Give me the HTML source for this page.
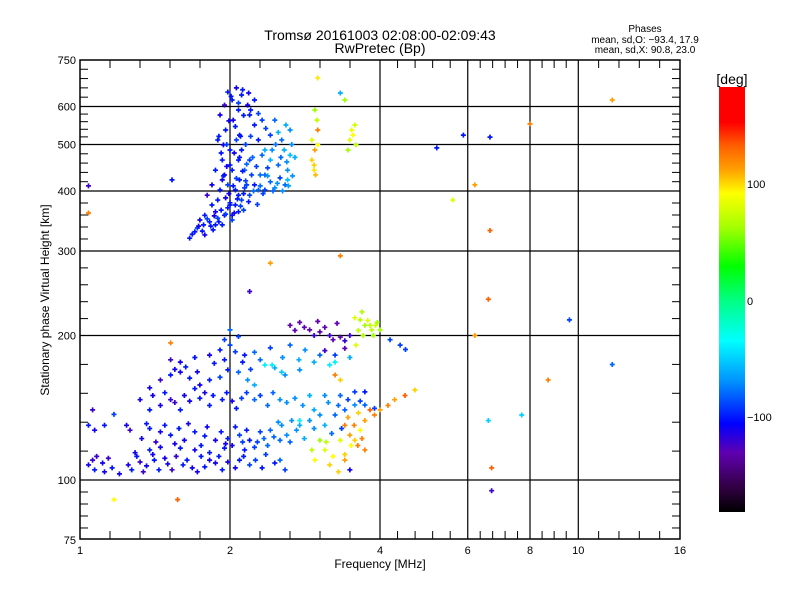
<!DOCTYPE html>
<html><head><meta charset="utf-8">
<style>
html,body{margin:0;padding:0;background:#fff;}
svg{display:block;font-family:"Liberation Sans",sans-serif;}
</style></head>
<body>
<svg id="chart" width="800" height="600" viewBox="0 0 800 600" xmlns="http://www.w3.org/2000/svg">
<defs>
<linearGradient id="cbgrad" x1="0" y1="1" x2="0" y2="0">
<stop offset="0" stop-color="#000000"/>
<stop offset="0.056" stop-color="#300040"/>
<stop offset="0.139" stop-color="#6000b0"/>
<stop offset="0.208" stop-color="#0000ff"/>
<stop offset="0.306" stop-color="#0090ff"/>
<stop offset="0.403" stop-color="#00ffff"/>
<stop offset="0.5" stop-color="#00ff80"/>
<stop offset="0.578" stop-color="#00ff00"/>
<stop offset="0.667" stop-color="#a0ff00"/>
<stop offset="0.75" stop-color="#ffff00"/>
<stop offset="0.806" stop-color="#ffa000"/>
<stop offset="0.861" stop-color="#ff6000"/>
<stop offset="0.917" stop-color="#ff0000"/>
<stop offset="1" stop-color="#ff0000"/>
</linearGradient>
</defs>
<text x="380" y="40" font-size="14" text-anchor="middle">Tromsø 20161003 02:08:00-02:09:43</text>
<text x="380" y="53" font-size="14" text-anchor="middle">RwPretec (Bp)</text>
<text x="645" y="32" font-size="10" text-anchor="middle">Phases</text>
<text x="645" y="43" font-size="10" text-anchor="middle">mean, sd,O: −93.4, 17.9</text>
<text x="645" y="53" font-size="10" text-anchor="middle">mean, sd,X:  90.8, 23.0</text>
<g id="grid"></g>
<g id="points"></g>
<g id="axes"></g>
<text x="380" y="568" font-size="12" text-anchor="middle">Frequency [MHz]</text>
<text x="0" y="0" font-size="12" text-anchor="middle" transform="translate(49,300) rotate(-90)">Stationary phase Virtual Height [km]</text>
<rect x="719" y="87" width="26" height="425" fill="url(#cbgrad)"/>
<text x="732" y="84" font-size="14" text-anchor="middle">[deg]</text>
<text x="747" y="188" font-size="11">100</text>
<text x="747" y="305" font-size="11">0</text>
<text x="747" y="421" font-size="11">−100</text>
</svg>
<script>
const xTickVals = [1, 2, 4, 6, 8, 10, 16];
const xTickLabels = ["1", "2", "4", "6", "8", "10", "16"];
const yTickVals = [75, 100, 200, 300, 400, 500, 600, 750];
const yTickLabels = ["75", "100", "200", "300", "400", "500", "600", "750"];
const xGridVals = [2, 4, 6, 8, 10];
const yGridVals = [100, 200, 300, 400, 500, 600];
// echo points: frequency [MHz], virtual height [km], phase [deg]
const pointFreq = [
1.66,1.70,1.72,1.77,1.78,1.82,1.85,1.89,1.93,1.87,1.95,1.98,2.02,2.05,2.08,2.11,1.96,1.84,1.78,1.74,
1.91,1.98,2.05,2.09,2.14,1.95,2.02,2.08,2.00,2.06,1.93,2.14,2.19,2.24,2.30,2.19,2.11,1.96,2.03,2.08,2.02,1.98,2.06,2.11,1.95,1.91,1.89,1.87,1.84,
2.35,2.41,2.46,2.52,2.58,2.61,2.50,2.38,2.32,2.43,2.54,2.64,2.59,2.41,2.28,2.24,2.32,2.46,2.19,2.17,2.24,
1.89,2.00,2.13,1.93,2.08,2.21,2.00,2.09,1.94,2.28,1.80,2.02,1.87,2.16,2.35,
2.35,2.50,2.64,2.57,2.41,2.61,
2.92,2.96,3.00,2.95,2.97,2.92,2.99,2.96,3.00,2.95,3.00,
3.51,3.56,3.48,3.58,3.45,3.53,3.40,3.33,
1.04,1.06,1.07,1.11,1.14,1.25,1.27,1.32,1.36,1.41,1.48,1.53,1.61,1.68,1.78,1.87,1.93,1.98,2.09,2.19,2.32,2.46,2.58,
1.29,1.38,1.45,1.59,1.70,1.82,1.95,2.02,2.14,2.24,2.38,2.52,2.64,
1.24,1.26,1.38,1.45,1.52,1.62,1.70,1.78,1.87,1.98,2.09,2.19,2.30,2.41,2.54,2.66,2.76,2.89,3.03,3.25,3.40,3.56,3.73,3.90,
1.32,1.38,1.45,1.52,1.59,1.66,1.74,1.82,1.93,2.02,2.11,2.24,2.38,2.52,2.70,2.89,3.10,3.33,3.56,3.73,
1.38,1.45,1.52,1.59,1.66,1.74,1.82,1.91,1.98,2.08,2.17,2.24,2.35,2.46,2.58,2.76,
1.52,1.59,1.70,1.82,1.91,2.00,2.14,2.24,2.41,2.64,2.83,3.03,3.25,3.48,
2.64,2.76,2.89,3.03,3.17,3.33,3.48,2.00,1.95,2.08,
3.65,3.73,3.56,3.68,3.85,3.95,3.58,3.82,4.00,4.19,4.39,4.50,
1.04,1.07,1.12,1.17,1.06,
3.40,3.48,3.56,3.65,3.73,3.61,3.40,3.82,3.90,4.00,4.15,4.28,4.49,4.70,3.03,3.10,3.17,2.96,3.48,3.25,3.33,2.92,3.73,3.33,
3.17,3.25,2.76,2.43,2.54,
11.7,8.0,6.65,5.2,5.88,6.2,5.6,6.65,6.6,6.2,6.6,6.7,6.7,9.6,8.7,11.7,7.7,1.57,1.17,1.04,1.04,1.53,2.41,3.33,2.19,1.52
];
const pointHeight = [
319,329,335,340,324,345,332,351,340,362,356,369,348,374,362,383,387,374,356,348,
402,412,402,422,406,432,442,464,487,511,464,442,392,412,432,464,487,536,562,590,619,643,656,634,604,576,511,442,412,
402,418,406,426,412,442,453,447,475,487,511,536,549,523,511,549,562,562,576,604,619,
383,374,365,422,392,432,453,523,499,402,392,356,340,412,432,
487,530,475,487,464,422,
464,487,499,442,432,511,562,590,536,453,688,
536,549,511,499,487,523,619,640,
107.5,110,105,108.5,111,107.5,105,109,107,110,111,105,107.5,106,106.5,108.5,105,109,110,107.5,106,108.5,105,
114,115.5,117,116.5,115.5,114,116.5,118,115.5,117,118,121,120,
130,127,128,126,124,121,126,123.5,121,122,124,121,126,127,130,133,130,133,136.6,136.6,140,143.3,143.3,141,
147,140,143,147,140,146,148,143,147,146,148,147,143,147,148,150,150,150,152.6,152.6,
155.6,161.6,165.5,167.8,163,157.7,161.6,163.7,169.6,167.8,161.6,157.7,173.6,171.2,165.5,169.6,
178,176,180,182,186.6,191,182,184.6,188.5,191,186.6,182,182,180,
210,213,205.5,203.5,200,198.5,200,205.5,196,199,
215.6,210,217.7,224,205.5,213,191,210,205.5,196,191,187,
130,127,130,137,140,
130,124,121,127,133,118,113,140,136.6,140,143,147,150,154,121,115.5,107.5,110,105,165.5,161.6,115.5,115.5,121,
173.6,176,133,173.6,167.8,
619,552,518,492,523,412,383,331,238,200,133,106,95,215.6,161.6,174,136.6,91,91,410,360,422,283,293,247,193
];
const pointPhase = [
-100,-100,-90,-100,-110,-100,-100,-90,-100,-110,-100,-100,-90,-100,-100,-90,-110,-100,-100,-110,
-100,-90,-100,-100,-90,-110,-100,-100,-100,-90,-100,-80,-90,-100,-80,-90,-100,-100,-110,-100,-100,-100,-110,-100,-120,-110,-100,-100,-110,
-90,-80,-70,-90,-80,-70,-80,-90,-80,-70,-80,-70,-60,-90,-100,-100,-90,-80,-100,-110,-100,
-100,-100,-90,-110,-100,-90,-100,-100,-110,-80,-120,-100,-100,-90,-80,
-60,-60,-55,-60,-60,-55,
100,110,90,95,105,80,70,60,120,100,95,
85,75,80,70,60,90,60,-60,
-110,-120,-100,-110,-120,-110,-100,-120,-110,-100,-110,-120,-100,-110,-100,-110,-100,-110,-100,-90,-100,-100,-90,
-110,-100,-110,-100,-110,-100,-100,-110,-100,-90,-80,-80,-80,
-110,-120,-100,-110,-100,-110,-100,-100,-110,-100,-90,-100,-90,-80,-70,-70,-60,-70,-70,-80,-80,-70,-80,-90,
-110,-100,-110,-120,-100,-110,-100,-100,-100,-110,-90,-80,-80,-70,-70,-60,-70,-80,-90,-100,
-110,-120,-100,-110,-100,-110,-100,-90,-100,-80,-70,-60,-40,-60,-70,-70,
-120,-110,-100,-110,-100,-90,-100,-80,-90,-80,-70,-80,-90,-60,
-130,-130,-130,-130,-120,-130,-120,-80,-90,-90,
70,60,80,65,70,60,80,70,60,-90,-90,-90,
-100,-110,-100,-90,-120,
120,110,100,90,110,120,100,130,120,110,120,110,130,100,60,80,100,90,-110,120,100,70,120,80,
-40,-40,-40,-40,-50,
110,120,-100,-100,-100,110,80,130,130,110,-50,130,-120,-90,120,-80,-50,130,90,-120,120,-100,110,120,-120,120
];
// additional echo points (dense regions)
const pointFreq2 = [
1.68,1.73,1.76,1.80,1.83,1.86,1.90,1.92,1.96,2.00,2.04,2.07,2.10,2.13,1.99,2.03,2.06,2.12,2.16,2.09,2.04,2.15,2.10,2.05,1.99,2.13,2.08,2.01,2.12,2.18,2.20,2.22,2.26,2.30,2.33,2.38,2.44,2.49,2.55,2.62,2.67,2.70,2.66,2.60,2.53,2.47,2.36,2.28,2.20,1.94,1.97,1.92,1.90,1.97,2.15,2.23,2.27,2.18,
1.08,1.12,1.16,1.20,1.30,1.34,1.40,1.44,1.50,1.56,1.64,1.72,1.75,1.82,1.90,2.05,2.13,2.25,2.36,2.52,
1.33,1.36,1.42,1.48,1.55,1.58,1.65,1.75,1.80,1.92,1.96,2.05,2.12,2.16,2.27,2.34,2.45,2.50,2.60,2.72,2.82,2.95,3.10,3.20,3.35,
1.40,1.48,1.55,1.62,1.70,1.78,1.85,1.97,2.06,2.16,2.30,2.44,2.60,2.80,2.95,3.15,3.30,3.45,3.65,
1.55,1.63,1.72,1.86,1.95,2.05,2.12,2.20,2.30,2.55,2.75,2.95,3.10,3.40,
2.70,2.82,2.95,3.10,3.22,3.40,3.28,3.00,
3.62,3.70,3.78,3.88,3.92,
3.45,3.55,3.62,3.50,3.68,3.40,3.12,3.22,3.30
];
const pointHeight2 = [
325,338,330,350,338,355,345,365,358,378,360,385,372,395,395,410,425,440,455,470,480,500,520,545,560,575,610,630,650,640,520,470,450,410,395,430,400,415,400,410,430,470,500,460,470,500,540,580,590,430,450,480,520,500,420,400,375,380,
112,104,106,103,112,104,113,105,108,112,110,104,112,110,112,106,112,110,113,110,
122,131,120,130,119,128,131,118,129,126,119,129,120,127,120,122,123,132,124,127,122,128,130,125,128,
150,152,145,150,155,152,150,152,141,152,150,152,145,143,140,145,143,147,146,
170,172,168,175,178,185,176,170,178,180,178,176,186,188,
205,208,200,208,196,195,212,214,
205,200,215,200,210,
135,130,138,118,122,110,120,112,104
];
const pointPhase2 = [
-100,-110,-100,-90,-100,-110,-100,-100,-90,-100,-110,-100,-90,-100,-110,-100,-90,-100,-80,-100,-110,-90,-100,-100,-110,-100,-90,-100,-100,-110,-90,-80,-90,-80,-90,-70,-80,-70,-70,-65,-70,-60,-70,-70,-80,-75,-90,-90,-100,-100,-110,-100,-100,-90,-90,-80,-90,-100,
-120,-110,-100,-110,-100,-120,-110,-100,-110,-120,-100,-110,-100,-110,-100,-110,-100,-90,-90,-80,
-110,-100,-120,-100,-110,-100,-110,-100,-110,-100,-110,-100,-90,-100,-90,-80,-80,-70,-70,-70,-60,-70,-60,-80,-90,
-110,-100,-120,-110,-100,-110,-100,-100,-100,-90,-90,-80,-70,-70,-60,-70,-80,-90,-90,
-110,-100,-110,-100,-100,-90,-100,-90,-80,-70,-60,-60,-120,-130,
-130,-130,-120,-130,-130,-120,-130,-130,
70,65,80,60,75,
110,120,100,90,120,110,70,90,100
];

const X0 = 80, X1 = 680, Y0 = 60, Y1 = 539;
function xScale(f){ return X0 + Math.log2(f) * 150; }
function yScale(h){ return 480 - Math.log2(h / 100) * 144.5; }
const cStops = [[-180,[0,0,0]],[-160,[48,0,64]],[-130,[96,0,176]],[-105,[0,0,255]],[-70,[0,144,255]],[-35,[0,255,255]],[0,[0,255,128]],[28,[0,255,0]],[60,[160,255,0]],[90,[255,255,0]],[110,[255,160,0]],[130,[255,96,0]],[150,[255,0,0]],[180,[255,0,0]]];
function phaseColor(p){
  for (let i = 1; i < cStops.length; i++) {
    if (p <= cStops[i][0]) {
      const a = cStops[i-1], b = cStops[i];
      const t = (p - a[0]) / (b[0] - a[0]);
      const c = a[1].map((v, k) => Math.round(v + (b[1][k] - v) * t));
      return "rgb(" + c.join(",") + ")";
    }
  }
  return "rgb(255,0,0)";
}
const NS = "http://www.w3.org/2000/svg";
function mk(tag, attrs, parent){
  const el = document.createElementNS(NS, tag);
  for (const k in attrs) el.setAttribute(k, attrs[k]);
  parent.appendChild(el);
  return el;
}
const grid = document.getElementById("grid");
const axes = document.getElementById("axes");
const pts = document.getElementById("points");

xGridVals.forEach(v => {
  const x = xScale(v);
  const l = mk("line", {x1: x, y1: Y0, x2: x, y2: Y1, stroke: "#000", "stroke-width": 1.2}, grid);
  
  
});
yGridVals.forEach(v => {
  const y = yScale(v);
  const l = mk("line", {x1: X0, y1: y, x2: X1, y2: y, stroke: "#000", "stroke-width": 1.2}, grid);
  
  
});

function drawPoints(fr, hs, ph){
  for (let i = 0; i < fr.length; i++) {
    const x = xScale(fr[i]), y = yScale(hs[i]);
    const c = phaseColor(ph[i]);
    const p = mk("path", {d: "M" + (x-2.5) + " " + y + "h5M" + x + " " + (y-2.5) + "v5", stroke: c, "stroke-width": 1.7, fill: "none"}, pts);
    
    
  }
}
drawPoints(pointFreq, pointHeight, pointPhase);
drawPoints(pointFreq2, pointHeight2, pointPhase2);

const frame = mk("rect", {x: X0, y: Y0, width: X1 - X0, height: Y1 - Y0, fill: "none", stroke: "#000", "stroke-width": 1.5}, axes);



for (let i = 0; i < xTickVals.length; i++) {
  const x = xScale(xTickVals[i]);
  const t = mk("text", {x: x, y: 554, "font-size": 11, "text-anchor": "middle"}, axes);
  t.textContent = xTickLabels[i];
  
  
  if (i < xTickVals.length - 1) {
    const xn = xScale(xTickVals[i+1]);
    const n = (xTickVals[i] === 8) ? 4 : 5;
    for (let k = 1; k < n; k++) {
      const xm = x + (xn - x) * k / n;
      mk("line", {x1: xm, y1: Y1, x2: xm, y2: Y1 - 8, stroke: "#000"}, axes);
      mk("line", {x1: xm, y1: Y0, x2: xm, y2: Y0 + 8, stroke: "#000"}, axes);
    }
  }
}
for (let i = 0; i < yTickVals.length; i++) {
  const y = yScale(yTickVals[i]);
  const t = mk("text", {x: 76, y: y + 4, "font-size": 11, "text-anchor": "end"}, axes);
  t.textContent = yTickLabels[i];
  
  
  if (i < yTickVals.length - 1) {
    const yn = yScale(yTickVals[i+1]);
    for (let k = 1; k < 5; k++) {
      const ym = y + (yn - y) * k / 5;
      mk("line", {x1: X0, y1: ym, x2: X0 + 8, y2: ym, stroke: "#000"}, axes);
      mk("line", {x1: X1, y1: ym, x2: X1 - 8, y2: ym, stroke: "#000"}, axes);
    }
  }
}
</script>
</body></html>
